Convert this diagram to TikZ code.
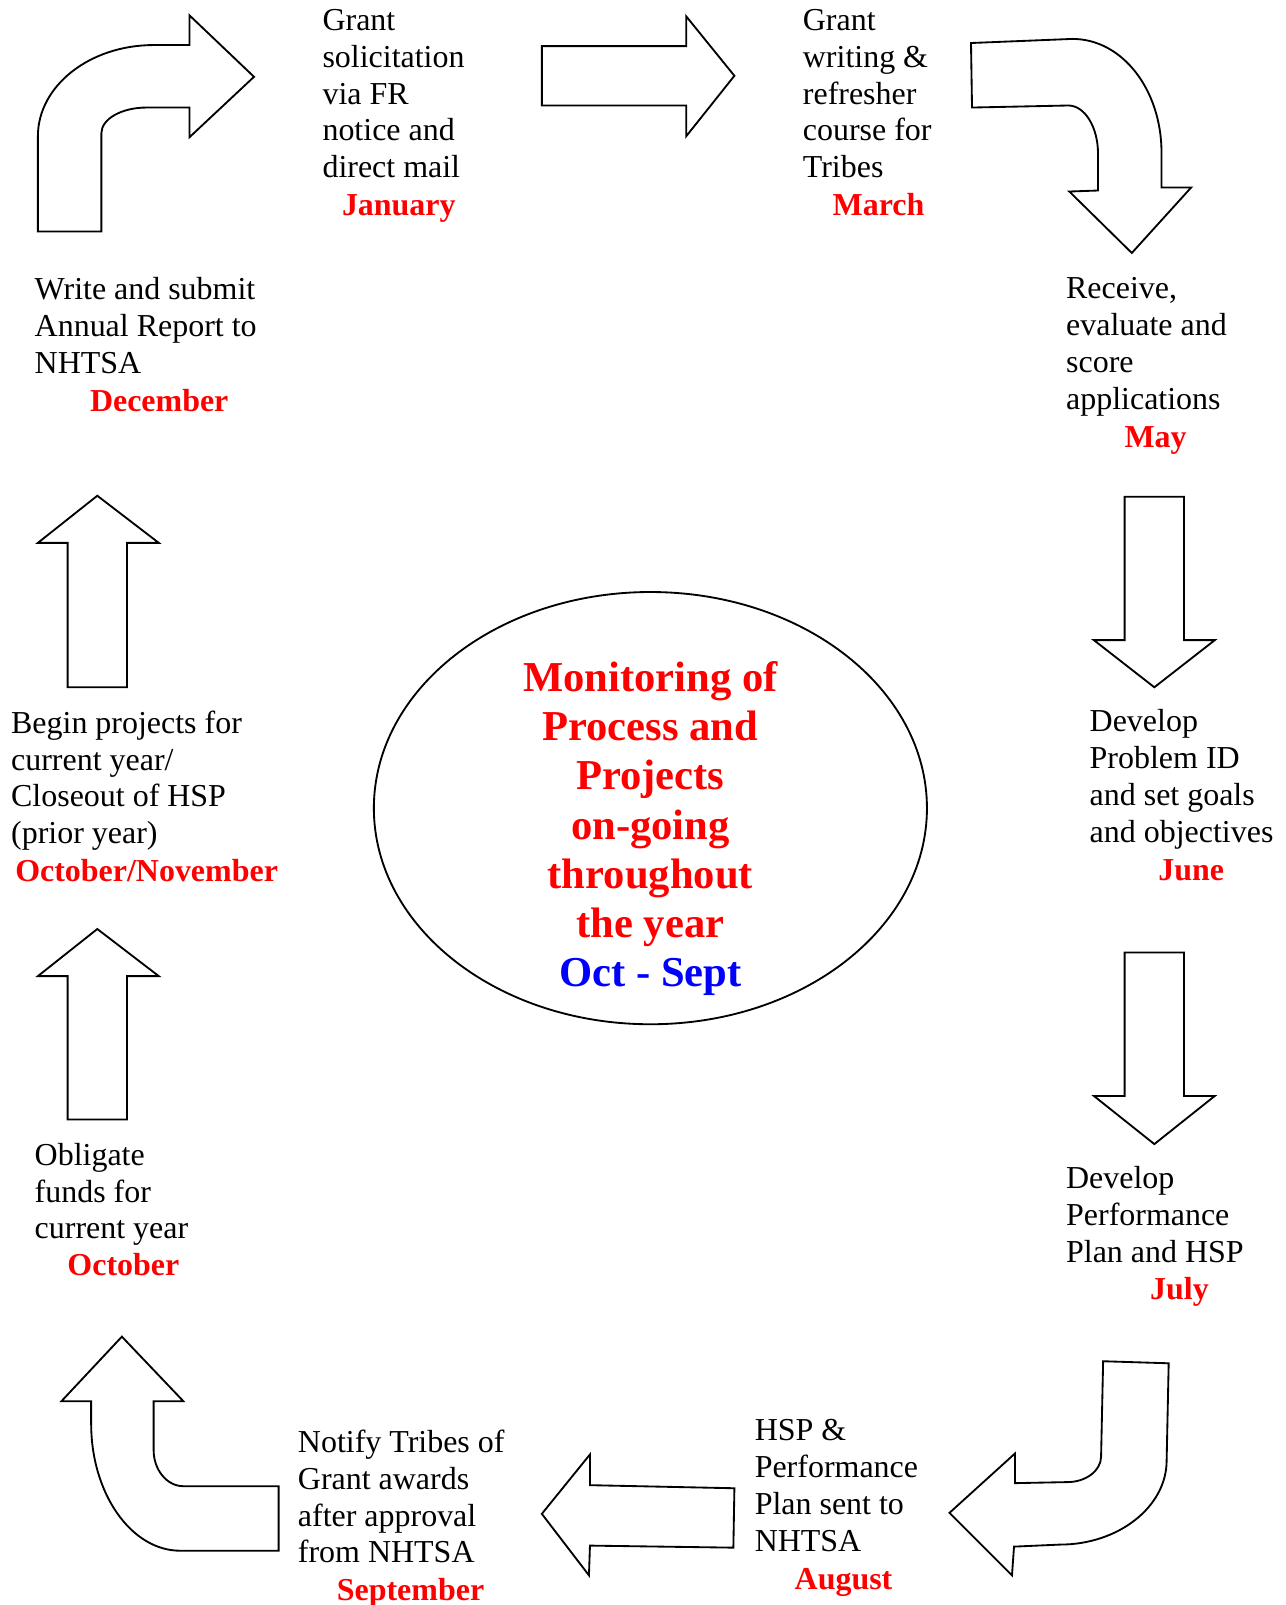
\documentclass[tikz,border=0pt]{standalone}
\usepackage{fontspec}
\setmainfont{Liberation Serif}

\newcommand{\mon}[1]{{\bfseries\color{red}#1}}

\begin{document}
\begin{tikzpicture}[x=0.5pt,y=-0.5pt,line width=0.9pt,
  stage/.style={anchor=north west,align=left,inner sep=0pt,font=\fontsize{15.6}{18}\selectfont}]

  \useasboundingbox (0,0) rectangle (1255,1567);

  % centre
  \draw (635,789) ellipse [x radius=270, y radius=211];
  \node[anchor=north,align=center,inner sep=0pt,text=red,font=\fontsize{20.8}{24}\selectfont\bfseries] (mid) at (635,645)
    {Monitoring of\\Process and\\Projects\\on-going\\throughout\\the year\\\textcolor{blue}{Oct - Sept}};

  % the months
  \node[stage] (jan) at (314,8) {Grant\\solicitation\\via FR\\notice and\\direct mail\\[0.5pt]\hspace*{9.5pt}\mon{January}};
  \node[stage] (mar) at (783,8) {Grant\\writing \&\\refresher\\course for\\Tribes\\[0.5pt]\hspace*{14.5pt}\mon{March}};
  \node[stage] (may) at (1040,270) {Receive,\\evaluate and\\score\\applications\\[0.5pt]\hspace*{28.5pt}\mon{May}};
  \node[stage] (jun) at (1063,692) {Develop\\Problem ID\\and set goals\\and objectives\\[0.5pt]\hspace*{33.5pt}\mon{June}};
  \node[stage] (jul) at (1040,1138) {Develop\\Performance\\Plan and HSP\\\hspace*{41pt}\mon{July}};
  \node[stage] (aug) at (736,1385) {HSP \&\\Performance\\Plan sent to\\NHTSA\\[0.5pt]\hspace*{19.5pt}\mon{August}};
  \node[stage] (sep) at (290,1395) {Notify Tribes of\\Grant awards\\after approval\\from NHTSA\\[0.5pt]\hspace*{19pt}\mon{September}};
  \node[stage] (oct) at (33,1115) {Obligate\\funds for\\current year\\\hspace*{16pt}\mon{October}};
  \node[stage] (nov) at (10,693) {Begin projects for\\current year/\\Closeout of HSP\\(prior year)\\[0.5pt]\hspace*{2pt}\mon{October/November}};
  \node[stage] (dec) at (33,270) {Write and submit\\Annual Report to\\NHTSA\\[0.5pt]\hspace*{27pt}\mon{December}};

  % arrows, clockwise from top left
  \draw (37,226) -- (37,133) arc[start angle=180, end angle=270, x radius=113, y radius=89]
    -- (185,44) -- (185,15) -- (248,75) -- (185,134) -- (185,105) -- (143,105)
    arc[start angle=270, end angle=180, x radius=44, y radius=25] -- (99,226) -- cycle;

  \draw (529,45) -- (670,45) -- (670,16) -- (717,74) -- (670,133) -- (670,103) -- (529,103) -- cycle;

  \draw (948,42) -- (1047,38) .. controls (1096,38) and (1134,88) .. (1134,149) -- (1134,183)
    -- (1163,183) -- (1105,247) -- (1044,187) -- (1072,186) -- (1072,150)
    .. controls (1072,124) and (1059,103) .. (1043,103) -- (949,105) -- cycle;

  \draw (1098,485) -- (1156,485) -- (1156,625) -- (1186,625) -- (1127,671) -- (1068,625) -- (1098,625) -- cycle;
  \draw (1098,930) -- (1156,930) -- (1156,1070) -- (1186,1070) -- (1127,1117) -- (1068,1070) -- (1098,1070) -- cycle;

  \draw (1077,1329) -- (1141,1331) -- (1139,1426) .. controls (1139,1471) and (1092,1508) .. (1035,1508)
    -- (990,1510) -- (988,1538) -- (927,1477) -- (991,1419) -- (991,1448) -- (1042,1447)
    .. controls (1060,1447) and (1075,1436) .. (1075,1422) -- cycle;

  \draw (717,1453) -- (576,1450) -- (576,1420) -- (529,1478) -- (575,1538) -- (576,1509) -- (716,1511) -- cycle;

  \draw (272,1451) -- (179,1451) .. controls (163,1451) and (150,1435) .. (150,1416) -- (150,1368)
    -- (179,1368) -- (119,1305) -- (60,1368) -- (89,1368) -- (89,1390)
    .. controls (89,1458) and (128,1514) .. (176,1514) -- (272,1514) -- cycle;

  \draw (66,1093) -- (66,953) -- (37,953) -- (95,907) -- (155,953) -- (124,953) -- (124,1093) -- cycle;
  \draw (66,671) -- (66,530) -- (37,530) -- (95,484) -- (155,530) -- (124,530) -- (124,671) -- cycle;

\end{tikzpicture}
\end{document}
